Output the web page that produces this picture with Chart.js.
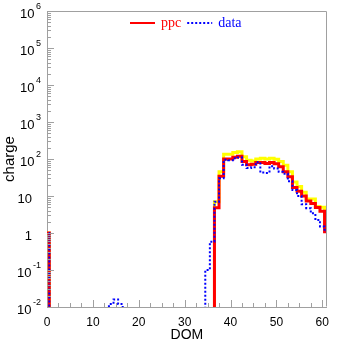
<!DOCTYPE html>
<html>
<head>
<meta charset="utf-8">
<script src="https://cdn.jsdelivr.net/npm/chart.js@4/dist/chart.umd.min.js"></script>
<style>
  html, body { margin: 0; padding: 0; background: #ffffff; }
  #wrap { width: 337px; height: 344px; }
</style>
</head>
<body>
<div id="wrap"><canvas id="c" width="337" height="344"></canvas></div>
<script>
// Charge per DOM, bins centred on integer DOM numbers (0..61).
const domBins = Array.from({ length: 62 }, (_, i) => i);

// Simulated charge (ppc), bins 37..61; DOM 0 carries a single unit.
const ppcHigh = [37, 38, 39, 40, 41, 42, 43, 44, 45, 46, 47, 48, 49, 50,
                 51, 52, 53, 54, 55, 56, 57, 58, 59, 60, 61];
const ppcValues = [4.8, 34, 100, 100, 112, 118, 85, 70, 72, 80, 80, 76, 81, 74,
                   62, 45, 33, 17, 13.5, 10, 7.3, 6.3, 4.9, 3.9, 1.08];
// Upper edge of the simulated charge band.
const ppcUpper = [7, 45, 135, 135, 150, 158, 115, 92, 88, 100, 104, 100, 104, 98,
                  85, 68, 45, 24, 18, 12.6, 8.3, 8.3, 5.2, 5.0, 1.4];

// Measured charge (data).
const dataBinsLow = [0, 14, 15, 16, 35, 36];
const dataLow = [1, 0.012, 0.016, 0.012, 0.1, 0.58];
const dataValues = [7, 30, 95, 92, 105, 110, 70, 57, 60, 82, 43, 42, 64, 55,
                    45, 40, 25, 14.5, 10, 6, 4.7, 3.4, 2.25, 1.5, 1.1];

// Axis tick values.
const xTickValues = [0, 2.5, 5, 7.5, 10, 12.5, 15, 17.5, 20, 22.5, 25, 27.5, 30,
                     32.5, 35, 37.5, 40, 42.5, 45, 47.5, 50, 52.5, 55, 57.5, 60];
const yDecades = [-2, -1, 0, 1, 2, 3, 4, 5, 6];

function fill(pairsBins, pairsVals) {
  const out = domBins.map(() => 0);
  pairsBins.forEach((b, i) => { out[b] = pairsVals[i]; });
  return out;
}
const ppc = fill([0].concat(ppcHigh), [1].concat(ppcValues));
const ppcUp = fill([0].concat(ppcHigh), [1].concat(ppcUpper));
const data = fill(dataBinsLow.concat(ppcHigh), dataLow.concat(dataValues));

// Empty bins sit far below the axis so the step drops out of view.
const EMPTY = 1e-9;
function histPoints(vals) {
  // one point per left bin edge, plus the closing right edge
  const pts = domBins.map((b, i) => ({ x: b - 0.5, y: vals[i] > 0 ? vals[i] : EMPTY }));
  pts.push({ x: domBins[domBins.length - 1] + 0.5, y: EMPTY });
  return pts;
}

const AXIS_GRAY = '#a0a0a0';
const SANS = "'Liberation Sans', Arial, Helvetica, sans-serif";
const SERIF = "'Liberation Serif', 'Times New Roman', serif";

const frame = {
  id: 'frame',
  afterDraw(chart) {
    const ctx = chart.ctx;
    const a = chart.chartArea;
    const xs = chart.scales.x, ys = chart.scales.y;
    ctx.save();
    ctx.strokeStyle = AXIS_GRAY;
    ctx.lineWidth = 1;
    // top and right frame lines
    ctx.beginPath();
    ctx.moveTo(Math.round(a.left) + 0.5, Math.round(a.top) + 0.5);
    ctx.lineTo(Math.round(a.right) - 0.5, Math.round(a.top) + 0.5);
    ctx.lineTo(Math.round(a.right) - 0.5, Math.round(a.bottom) - 0.5);
    ctx.stroke();
    // x ticks, pointing into the plot
    ctx.beginPath();
    xTickValues.forEach(v => {
      const px = Math.round(xs.getPixelForValue(v)) + 0.5;
      const len = v % 10 === 0 ? 7 : 4;
      ctx.moveTo(px, a.bottom);
      ctx.lineTo(px, a.bottom - len);
    });
    // y ticks: decades and 2..9 minors
    yDecades.forEach(e => {
      for (let m = 1; m <= 9; m++) {
        const v = m * Math.pow(10, e);
        if (v > ys.max * 1.0001) break;
        const py = Math.round(ys.getPixelForValue(v)) + 0.5;
        const len = m === 1 ? 7 : 4;
        ctx.moveTo(a.left, py);
        ctx.lineTo(a.left + len, py);
      }
    });
    ctx.stroke();

    // y tick labels with raised exponents
    ctx.fillStyle = '#000000';
    ctx.textBaseline = 'alphabetic';
    yDecades.forEach(e => {
      const py = ys.getPixelForValue(Math.pow(10, e));
      if (e === 0 || e === 1) {
        ctx.font = '13px ' + SANS;
        ctx.textAlign = 'right';
        ctx.fillText(e === 0 ? '1' : '10', 32, py + 6.5);
      } else {
        const exp = String(e);
        ctx.font = '9px ' + SANS;
        const ew = ctx.measureText(exp).width;
        ctx.textAlign = 'left';
        ctx.fillText(exp, 41 - ew, py - 2);
        ctx.font = '13px ' + SANS;
        ctx.textAlign = 'right';
        ctx.fillText('10', 41 - ew - 1.5, py + 6.5);
      }
    });

    // y axis title
    ctx.save();
    ctx.translate(13.5, (a.top + a.bottom) / 2);
    ctx.rotate(-Math.PI / 2);
    ctx.font = '15px ' + SANS;
    ctx.textAlign = 'center';
    ctx.fillText('charge', 0, 0);
    ctx.restore();

    // legend: ppc, data
    const items = [chart.data.datasets[1], chart.data.datasets[0]];
    const ly = 23;
    let lx = 130;
    items.forEach(ds => {
      ctx.beginPath();
      ctx.strokeStyle = ds.borderColor;
      ctx.lineWidth = 2;
      ctx.setLineDash(ds.borderDash || []);
      ctx.moveTo(lx, ly);
      ctx.lineTo(lx + 25, ly);
      ctx.stroke();
      ctx.setLineDash([]);
      ctx.font = '14px ' + SERIF;
      ctx.fillStyle = ds.borderColor;
      ctx.textAlign = 'left';
      ctx.fillText(ds.label, lx + 31, ly + 4);
      lx = lx + 31 + ctx.measureText(ds.label).width + 6;
    });
    ctx.restore();
  }
};

new Chart(document.getElementById('c'), {
  type: 'line',
  data: {
    datasets: [
      { label: 'data', data: histPoints(data), borderColor: '#0000ff', borderWidth: 2,
        borderDash: [2, 2], stepped: 'before', pointRadius: 0, fill: false, clip: 0 },
      { label: 'ppc', data: histPoints(ppc), borderColor: '#ff0000', borderWidth: 3,
        stepped: 'before', pointRadius: 0, fill: false, clip: 0 },
      { label: 'ppc upper', data: histPoints(ppcUp), borderColor: '#ffff00', borderWidth: 3,
        stepped: 'before', pointRadius: 0, fill: false, clip: 0 }
    ]
  },
  options: {
    responsive: false,
    animation: false,
    devicePixelRatio: 1,
    layout: { padding: { top: 11, right: 4, left: 0, bottom: 0 } },
    plugins: { legend: { display: false }, tooltip: { enabled: false } },
    scales: {
      x: {
        type: 'linear', min: 0, max: 61,
        grid: { display: false, drawTicks: false },
        border: { display: true, color: AXIS_GRAY, width: 1 },
        afterBuildTicks: s => { s.ticks = xTickValues.map(v => ({ value: v })); },
        afterFit: s => { s.height = 37; },
        ticks: {
          autoSkip: false, maxRotation: 0, padding: 8, color: '#000000',
          font: { family: SANS, size: 12 },
          callback: v => (v % 10 === 0 ? String(v) : '')
        },
        title: { display: true, text: 'DOM', color: '#000000',
                 font: { family: SANS, size: 14 }, padding: { top: 0, bottom: 0 } }
      },
      y: {
        type: 'logarithmic', min: 0.01, max: 1e6,
        grid: { display: false, drawTicks: false },
        border: { display: true, color: AXIS_GRAY, width: 1 },
        afterBuildTicks: s => { s.ticks = yDecades.map(e => ({ value: Math.pow(10, e) })); },
        afterFit: s => { s.width = 47; },
        ticks: { display: false }
      }
    }
  },
  plugins: [frame]
});
</script>
</body>
</html>
